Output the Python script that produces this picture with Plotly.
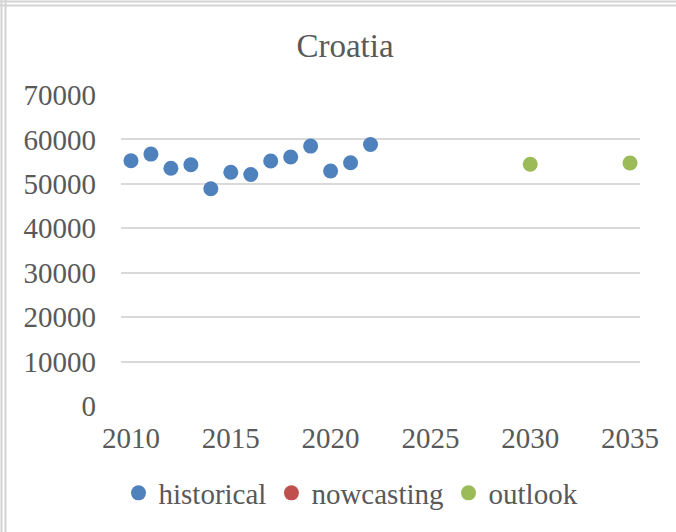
import plotly.graph_objects as go

years_hist = [2010, 2011, 2012, 2013, 2014, 2015, 2016, 2017, 2018, 2019, 2020, 2021, 2022]
values_hist = [55200, 56700, 53500, 54300, 48900, 52600, 52100, 55150, 56050, 58500, 52900, 54750, 58850]
years_now = []
values_now = []
years_out = [2030, 2035]
values_out = [54400, 54700]

x_ticks = [2010, 2015, 2020, 2025, 2030, 2035]
y_ticks = [0, 10000, 20000, 30000, 40000, 50000, 60000, 70000]

W, H = 676, 532
L, R, T, B = 121, 36, 95, 126
pw, ph = W - L - R, H - T - B

FONT = "Liberation Serif"
GRAY = "#595959"

fig = go.Figure()
fig.add_trace(go.Scatter(x=years_hist, y=values_hist, mode="markers", name="historical",
                         marker=dict(color="#4f81bd", size=15)))
# nowcasting has no visible points; keep a placeholder so the legend entry shows
fig.add_trace(go.Scatter(x=years_now or [None], y=values_now or [None], mode="markers", name="nowcasting",
                         marker=dict(color="#c0504d", size=15)))
fig.add_trace(go.Scatter(x=years_out, y=values_out, mode="markers", name="outlook",
                         marker=dict(color="#9bbb59", size=15)))

def px(x):
    return (x - L) / pw

def py(y):
    return (H - B - y) / ph

shapes = []
for xx in (1.5, 5.5):
    shapes.append(dict(type="line", xref="paper", yref="paper", x0=px(xx), x1=px(xx),
                       y0=py(0), y1=py(H), line=dict(color="#d4d4d4", width=2)))
for yy in (1.5, 5.5):
    shapes.append(dict(type="line", xref="paper", yref="paper", x0=px(0), x1=px(W),
                       y0=py(yy), y1=py(yy), line=dict(color="#d4d4d4", width=2)))

fig.update_layout(
    width=W, height=H,
    margin=dict(l=L, r=R, t=T, b=B),
    paper_bgcolor="white", plot_bgcolor="white",
    font=dict(family=FONT, color=GRAY, size=29),
    title=dict(text="Croatia", x=345 / W, xref="container", xanchor="center", y=1 - 45 / H,
               yref="container", yanchor="middle",
               font=dict(family=FONT, size=33, color=GRAY)),
    showlegend=True,
    legend=dict(orientation="h", x=351 / W, xref="container", xanchor="center",
                y=1 - 493 / H, yref="container", yanchor="middle",
                font=dict(family=FONT, size=29, color=GRAY), itemwidth=30, tracegroupgap=0,
                bgcolor="rgba(0,0,0,0)"),
    xaxis=dict(range=[2009.5, 2035.5], tickvals=x_ticks, ticktext=[str(v) for v in x_ticks],
               showgrid=False, zeroline=False, showline=False, ticks="",
               ticklabelstandoff=12, tickfont=dict(family=FONT, size=29, color=GRAY)),
    yaxis=dict(range=[0, 70000], tickvals=y_ticks, ticktext=[str(v) for v in y_ticks],
               showgrid=True, gridcolor="#d9d9d9", gridwidth=1.5, zeroline=False, showline=False,
               ticks="", ticklabelstandoff=24, tickfont=dict(family=FONT, size=29, color=GRAY)),
    shapes=shapes,
)

fig.write_html("out.html", config={"displayModeBar": False},
               post_script="document.body.style.margin='0';")
